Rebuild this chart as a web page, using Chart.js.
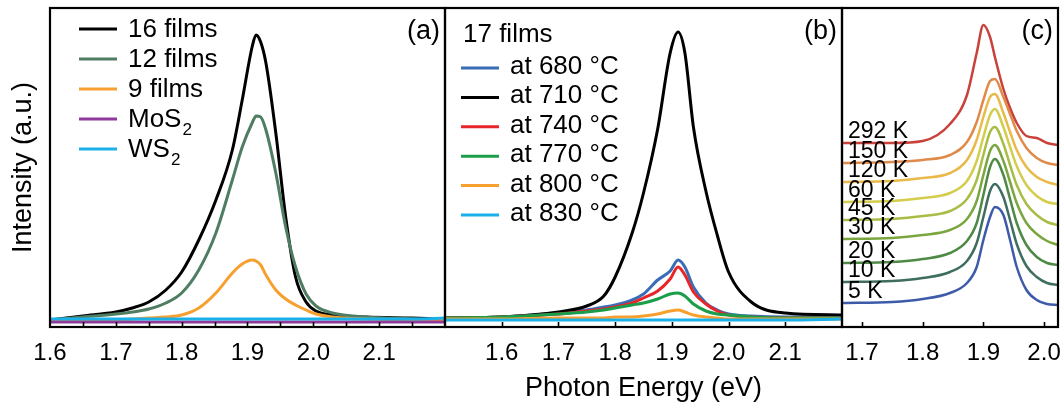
<!DOCTYPE html>
<html>
<head>
<meta charset="utf-8">
<script src="https://cdn.jsdelivr.net/npm/chart.js@4/dist/chart.umd.min.js"></script>
<style>
  html, body { margin: 0; padding: 0; background: #fff; }
  #wrap { position: relative; width: 1063px; height: 408px; overflow: hidden; background: #fff; }
  #wrap canvas { position: absolute; top: 0; }
</style>
</head>
<body>
<div id="wrap">
  <canvas id="pa" width="448" height="408" style="left:0px"></canvas>
  <canvas id="pb" width="402" height="408" style="left:443px"></canvas>
  <canvas id="pc" width="223" height="408" style="left:840px"></canvas>
</div>
<script>
// (a) PL spectra vs. number of films
var energyA = [1.60, 1.65, 1.70, 1.725, 1.75, 1.776, 1.80, 1.826, 1.852, 1.877, 1.892, 1.907, 1.913, 1.92, 1.928, 1.943, 1.958, 1.973, 1.989, 2.004, 2.029, 2.08, 2.15, 2.20];
var films16 = [7, 11, 15, 19, 25, 37, 55, 87, 127, 177, 227, 280, 292, 285, 264, 194, 110, 50, 25, 16, 12, 10, 9, 8];
var films12 = [7, 10, 13, 15, 18, 24, 34, 57, 94, 147, 180, 204, 211, 210, 197, 154, 100, 60, 33, 21, 14, 10, 8, 7];
var films9  = [6, 6, 7, 8, 9, 10, 12, 19, 34, 54, 63, 67, 66, 62, 52, 37, 28, 22, 17, 13, 10, 8, 7, 7];
var mos2    = [5, 5, 5, 5, 5, 5, 5, 5, 5, 5, 5, 5, 5, 5, 5, 5, 5, 5, 5, 5, 5, 5, 5, 5];
var ws2     = [8, 8, 8, 8, 8, 8, 8, 8, 8, 8, 8, 8, 8, 8, 8, 8, 8, 8, 8, 8, 8, 8, 8, 9];
var seriesA = ['16 films', '12 films', '9 films', 'MoS₂', 'WS₂'];
var colorsA = ['#000000', '#4f7d62', '#f7a030', '#8e3a9a', '#1ab0e8'];

// (b) 17 films grown at different temperatures
var energyB = [1.50, 1.60, 1.70, 1.75, 1.78, 1.80, 1.83, 1.85, 1.875, 1.897, 1.911, 1.923, 1.938, 1.96, 1.98, 2.00, 2.04, 2.10, 2.20];
var t680 = [9, 10, 14, 17, 20, 22, 27, 33, 47, 56, 67, 60, 40, 24, 17, 13, 11, 10, 10];
var t710 = [9, 10, 15, 21, 31, 50, 94, 134, 198, 274, 295, 274, 200, 136, 92, 55, 25, 14, 12];
var t740 = [9, 10, 13, 16, 18, 20, 24, 29, 36, 48, 60, 52, 35, 23, 16, 12, 10, 9, 9];
var t770 = [9, 10, 13, 15, 17, 19, 22, 24, 28, 33, 34, 31, 23, 16, 13, 12, 10, 9, 9];
var t800 = [8, 8, 9, 9, 9, 10, 10, 11, 13, 16, 17, 15, 12, 10, 9, 8, 8, 8, 8];
var t830 = [7, 7, 7, 7, 7, 7, 7, 7, 7, 7, 7, 7, 7, 7, 7, 7, 7, 7, 8];
var seriesB = ['at 680 °C', 'at 710 °C', 'at 740 °C', 'at 770 °C', 'at 800 °C', 'at 830 °C'];
var colorsB = ['#3a6db8', '#000000', '#e8262a', '#1a9e4a', '#f7a030', '#1ab0e8'];

// (c) temperature dependent spectra, offset for clarity
var energyC = [1.667, 1.75, 1.80, 1.845, 1.873, 1.889, 1.90, 1.911, 1.919, 1.933, 1.944, 1.955, 1.971, 1.988, 2.005, 2.023];
var k5   = [24, 25, 28, 34, 44, 60, 87, 110, 120, 112, 87, 60, 37, 27, 23, 22];
var k10  = [45, 46, 49, 55, 66, 84, 110, 136, 143, 130, 107, 83, 61, 50, 44, 42];
var k20  = [64, 65, 68, 74, 86, 104, 132, 160, 168, 152, 128, 104, 82, 70, 64, 62];
var k30  = [88, 89, 92, 97, 108, 126, 152, 176, 182, 166, 145, 124, 104, 93, 86, 82];
var k45  = [107, 108, 111, 116, 128, 147, 172, 195, 200, 183, 162, 142, 123, 112, 105, 102];
var k60  = [125, 126, 129, 134, 146, 166, 190, 212, 218, 200, 180, 161, 142, 131, 125, 123];
var k120 = [145, 146, 149, 154, 167, 187, 210, 230, 233, 214, 195, 177, 160, 150, 145, 142];
var k150 = [164, 165, 167, 172, 185, 205, 227, 246, 248, 230, 213, 196, 179, 169, 164, 162];
var k292 = [184, 184, 186, 203, 232, 274, 302, 290, 270, 238, 219, 204, 191, 189, 184, 182];
var seriesC = ['5 K', '10 K', '20 K', '30 K', '45 K', '60 K', '120 K', '150 K', '292 K'];
var colorsC = ['#3d5ba9', '#3f6d5f', '#4e8a45', '#7aa63f', '#a8bd45', '#d4cd4c', '#e9b94a', '#e08a4a', '#c9413a'];

// axis ticks
var ticksA = [1.6, 1.65, 1.7, 1.75, 1.8, 1.85, 1.9, 1.95, 2.0, 2.05, 2.1, 2.15];
var labelsA = ['1.6', '1.7', '1.8', '1.9', '2.0', '2.1'];
var ticksB = [1.6, 1.7, 1.8, 1.9, 2.0, 2.1];
var labelsB = ['1.6', '1.7', '1.8', '1.9', '2.0', '2.1'];
var ticksC = [1.7, 1.8, 1.9, 2.0];
var labelsC = ['1.7', '1.8', '1.9', '2.0'];

var FONT = '"Liberation Sans", Arial, Helvetica, sans-serif';
Chart.defaults.font.family = FONT;
Chart.defaults.color = '#000';

function pts(xs, ys) {
  return xs.map(function (x, i) { return { x: x, y: ys[i] }; });
}

function lineSet(label, xs, ys, color, order, width) {
  return {
    label: label,
    data: pts(xs, ys),
    borderColor: color,
    backgroundColor: color,
    borderWidth: width,
    pointRadius: 0,
    cubicInterpolationMode: 'monotone',
    order: order
  };
}

// draws label text, with "₂" rendered as a lowered smaller 2
function subText(ctx, text, x, y, size) {
  var parts = text.split('₂');
  var cx = x;
  for (var i = 0; i < parts.length; i++) {
    ctx.font = size + 'px ' + FONT;
    ctx.fillText(parts[i], cx, y);
    cx += ctx.measureText(parts[i]).width;
    if (i < parts.length - 1) {
      ctx.font = Math.round(size * 0.65) + 'px ' + FONT;
      ctx.fillText('2', cx + 1, y + 8);
      cx += ctx.measureText('2').width + 1;
    }
  }
}

// frame, inward tick marks, panel letter and inset legend
var framePlugin = {
  id: 'frame',
  afterDraw: function (chart, args, opts) {
    var ctx = chart.ctx, a = chart.chartArea, xs = chart.scales.x;
    ctx.save();
    ctx.strokeStyle = '#000';
    ctx.lineWidth = 1.6;
    xs.ticks.forEach(function (t) {
      if (t.value <= xs.min || t.value >= xs.max) return;
      var px = Math.round(xs.getPixelForValue(t.value)) + 0.5;
      ctx.beginPath();
      ctx.moveTo(px, a.bottom);
      ctx.lineTo(px, a.bottom - 5);
      ctx.stroke();
    });
    ctx.lineWidth = 2.2;
    ctx.strokeRect(a.left, a.top, a.right - a.left, a.bottom - a.top);

    ctx.fillStyle = '#000';
    ctx.textBaseline = 'alphabetic';
    ctx.textAlign = 'right';
    ctx.font = '27px ' + FONT;
    ctx.fillText(opts.letter, a.right - 5, 39);

    ctx.textAlign = 'left';
    if (opts.legend) {
      var lg = opts.legend;
      if (lg.title) {
        ctx.font = '26px ' + FONT;
        ctx.fillText(lg.title, lg.titleX, lg.titleY);
      }
      lg.items.forEach(function (label, i) {
        var y = lg.y + i * lg.gap;
        ctx.strokeStyle = lg.colors[i];
        ctx.lineWidth = 3;
        ctx.beginPath();
        ctx.moveTo(lg.x, y);
        ctx.lineTo(lg.x + 38, y);
        ctx.stroke();
        subText(ctx, label, lg.x + 49, y + lg.shift, 26);
      });
    }
    if (opts.curveLabels) {
      ctx.font = '23px ' + FONT;
      var ys = chart.scales.y;
      opts.curveLabels.forEach(function (label, i) {
        var y0 = ys.getPixelForValue(chart.data.datasets[i].data[0].y);
        ctx.fillText(label, a.left + 6, y0 - 5);
      });
    }
    ctx.restore();
  }
};

function xScale(min, max, tickVals, tickLabels, title) {
  return {
    type: 'linear',
    min: min,
    max: max,
    grid: { display: false, drawTicks: false },
    border: { display: false },
    afterBuildTicks: function (scale) {
      scale.ticks = tickVals.map(function (v) { return { value: v }; });
    },
    afterFit: function (scale) {
      scale.height = 81;
      scale.paddingLeft = 0;
      scale.paddingRight = 0;
    },
    ticks: {
      autoSkip: false,
      maxRotation: 0,
      padding: 12,
      font: { size: 24 },
      callback: function (v) {
        var s = v.toFixed(1);
        var onTenth = Math.abs(v * 10 - Math.round(v * 10)) < 1e-6;
        return onTenth && tickLabels.indexOf(s) >= 0 ? s : '';
      }
    },
    title: title ? { display: true, text: title, font: { size: 27 }, padding: { top: 0, bottom: 3 } } : { display: false }
  };
}

function yScale(withTitle) {
  var s = {
    min: 0,
    max: 319,
    grid: { display: false, drawTicks: false },
    border: { display: false },
    ticks: { display: false }
  };
  if (withTitle) {
    s.title = { display: true, text: 'Intensity (a.u.)', font: { size: 27 }, padding: { top: 7, bottom: 0 } };
    s.afterFit = function (scale) { scale.width = 50; };
  } else {
    s.display = false;
  }
  return s;
}

function makePanel(id, datasets, x, y, padding, frameOpts) {
  return new Chart(document.getElementById(id), {
    type: 'line',
    data: { datasets: datasets },
    options: {
      responsive: false,
      animation: false,
      devicePixelRatio: 1,
      layout: { padding: padding },
      scales: { x: x, y: y },
      plugins: { legend: { display: false }, tooltip: { enabled: false }, frame: frameOpts }
    },
    plugins: [framePlugin]
  });
}

var valsA = [films16, films12, films9, mos2, ws2];
makePanel('pa',
  valsA.map(function (v, i) { return lineSet(seriesA[i], energyA, v, colorsA[i], valsA.length - i, 3); }),
  xScale(1.6, 2.2, ticksA, labelsA, null),
  yScale(true),
  { top: 8, right: 3, left: 0, bottom: 0 },
  { letter: '(a)', legend: { x: 79, y: 29, gap: 30, shift: 8, items: seriesA, colors: colorsA } }
);

var valsB = [t680, t710, t740, t770, t800, t830];
makePanel('pb',
  valsB.map(function (v, i) { return lineSet(seriesB[i], energyB, v, colorsB[i], valsB.length - i, 3); }),
  xScale(1.5, 2.2, ticksB, labelsB, 'Photon Energy (eV)'),
  yScale(false),
  { top: 8, right: 3, left: 2, bottom: 0 },
  { letter: '(b)', legend: { x: 18, y: 68, gap: 29.4, shift: 6, title: '17 films', titleX: 20, titleY: 42, items: seriesB, colors: colorsB } }
);

var valsC = [k5, k10, k20, k30, k45, k60, k120, k150, k292];
makePanel('pc',
  valsC.map(function (v, i) { return lineSet(seriesC[i], energyC, v, colorsC[i], i, 2.5); }),
  xScale(1.667, 2.023, ticksC, labelsC, null),
  yScale(false),
  { top: 8, right: 5, left: 2, bottom: 0 },
  { letter: '(c)', curveLabels: seriesC }
);
</script>
</body>
</html>
